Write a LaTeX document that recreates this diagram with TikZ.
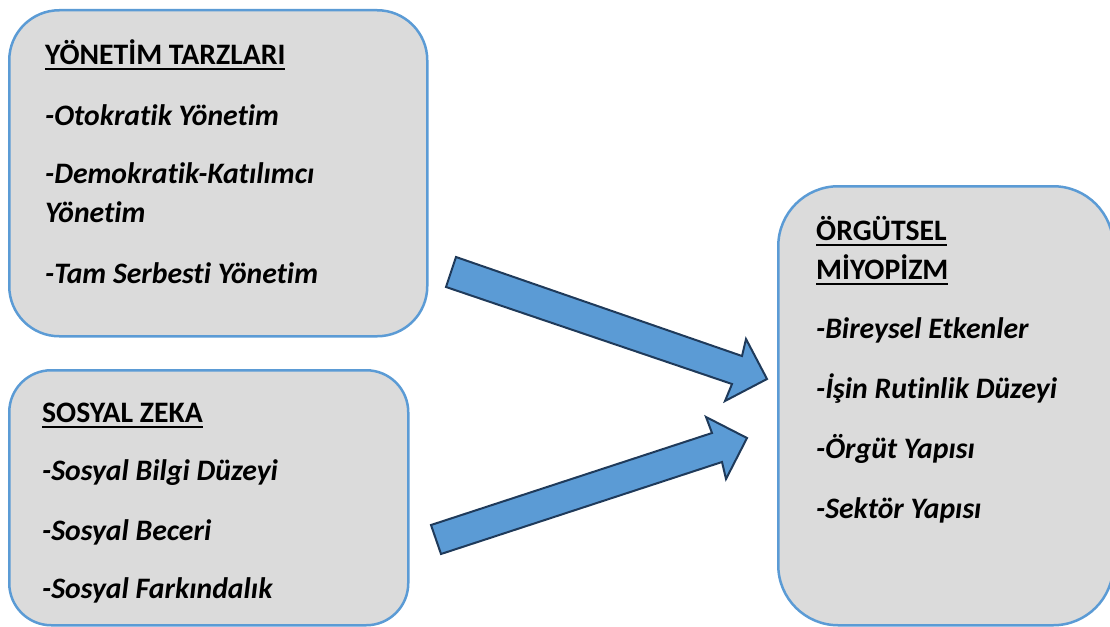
\documentclass[tikz,border=0pt]{standalone}
\usepackage{fontspec}
\setmainfont{Carlito}[Ligatures=NoCommon]
\definecolor{boxblue}{HTML}{5B9BD5}
\definecolor{boxgray}{HTML}{DBDBDB}
\definecolor{arrowedge}{HTML}{1F3A5A}
\newcommand{\ulin}[1]{\setbox0\hbox{#1}\rlap{\rule[-6pt]{\wd0}{2.2pt}}\box0}
\begin{document}
\begin{tikzpicture}[x=1pt,y=-1pt,
  box/.style={draw=boxblue, line width=2.5pt, fill=boxgray, anchor=north west, inner sep=0pt},
  ttl/.style={anchor=base west, inner sep=0pt, font=\fontsize{29.7}{36}\selectfont\bfseries},
  itm/.style={anchor=base west, inner sep=0pt, font=\fontsize{29.7}{36}\selectfont\bfseries\itshape},
  blockarrow/.style={fill=boxblue, draw=arrowedge, line width=2pt, line join=miter}]
\useasboundingbox (0,0) rectangle (1110,626);
% boxes
\node[box, rounded corners=50pt, minimum width=418pt, minimum height=326pt] (b1) at (8,9) {};
\node[box, rounded corners=42pt, minimum width=399pt, minimum height=255pt] (b2) at (8,369) {};
\node[box, rounded corners=60pt, minimum width=335pt, minimum height=439pt] (b3) at (777,185) {};
% box 1 text
\node[ttl] (t1) at (45,64) {\ulin{YÖNETİM TARZLARI}};
\node[itm] (t1a) at (45,125) {-Otokratik Yönetim};
\node[itm] (t1b) at (45,183) {-Demokratik-Katılımcı};
\node[itm] (t1c) at (45,222) {Yönetim};
\node[itm] (t1d) at (45,283) {-Tam Serbesti Yönetim};
% box 2 text
\node[ttl] (t2) at (42,422) {\ulin{SOSYAL ZEKA}};
\node[itm] (t2a) at (42,480) {-Sosyal Bilgi Düzeyi};
\node[itm] (t2b) at (42,540) {-Sosyal Beceri};
\node[itm] (t2c) at (42,598) {-Sosyal Farkındalık};
% box 3 text
\node[ttl] (t3) at (816,240) {\ulin{ÖRGÜTSEL}};
\node[ttl] (t3b) at (816,279) {\ulin{MİYOPİZM}};
\node[itm] (t3c) at (816,338) {-Bireysel Etkenler};
\node[itm] (t3d) at (816,398) {-İşin Rutinlik Düzeyi};
\node[itm] (t3e) at (816,458) {-Örgüt Yapısı};
\node[itm] (t3f) at (816,518) {-Sektör Yapısı};
% arrow 1
\coordinate (a1u) at (456,257);
\coordinate (a1l) at (446,287);
\coordinate (a1su) at (742,356);
\coordinate (a1bu) at (746,339);
\coordinate (a1t) at (767,379);
\coordinate (a1bl) at (725,401);
\coordinate (a1sl) at (732,384);
\draw[blockarrow] (a1u) -- (a1su) -- (a1bu) -- (a1t) -- (a1bl) -- (a1sl) -- (a1l) -- cycle;
% arrow 2
\coordinate (a2u) at (431,525);
\coordinate (a2l) at (441,554);
\coordinate (a2su) at (712,433);
\coordinate (a2bu) at (706,417);
\coordinate (a2t) at (747,438);
\coordinate (a2bl) at (726,479);
\coordinate (a2sl) at (722,462);
\draw[blockarrow] (a2u) -- (a2su) -- (a2bu) -- (a2t) -- (a2bl) -- (a2sl) -- (a2l) -- cycle;
\end{tikzpicture}
\end{document}
